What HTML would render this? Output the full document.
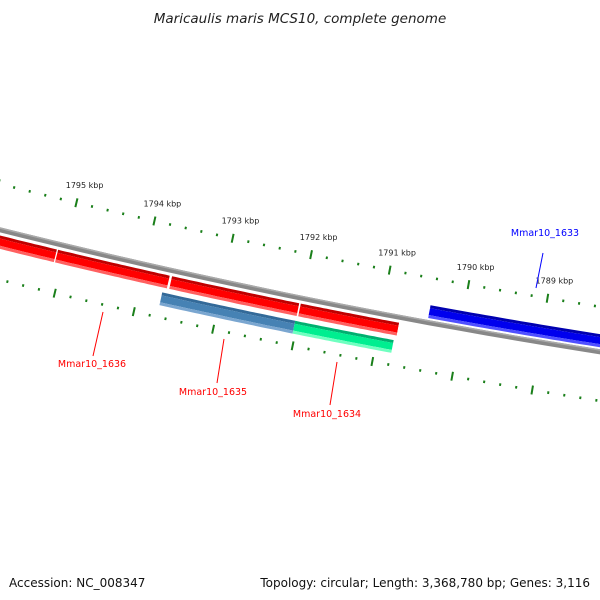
<!DOCTYPE html>
<html><head><meta charset="utf-8"><style>
html,body{margin:0;padding:0;background:#fff;}
svg{display:block;font-family:"DejaVu Sans","Liberation Sans",sans-serif;}
</style></head><body>
<svg id="map" width="600" height="600" viewBox="0 0 600 600" xmlns="http://www.w3.org/2000/svg">
<text x="300" y="23" text-anchor="middle" font-size="13.5" font-style="italic" fill="#222">Maricaulis maris MCS10, complete genome</text>
<text x="9" y="587" font-size="12" fill="#111">Accession: NC_008347</text>
<text x="590" y="587" text-anchor="end" font-size="12" fill="#111">Topology: circular; Length: 3,368,780 bp; Genes: 3,116</text>
<g id="layer"></g>
</svg>
<script>
// data (kbp)
const majorTicks = [1789, 1790, 1791, 1792, 1793, 1794, 1795, 1796];
const tickLabels = ["1789 kbp","1790 kbp","1791 kbp","1792 kbp","1793 kbp","1794 kbp","1795 kbp",""];
const cdsStarts = [1795.09, 1793.64, 1792.01, 1790.78, 1795.9];
const cdsEnds   = [1793.66, 1792.02, 1790.76, 1790.76, 1795.10];
const geneNames = ["Mmar10_1636","Mmar10_1635","Mmar10_1634","Mmar10_1633"];
const geneStarts = [1795.09, 1793.71, 1792.03, 1790.42];
const geneEnds   = [1793.64, 1792.03, 1790.79, 1787.8];
const geneLane   = [0, 1, 1, 2];

const svg = document.getElementById('layer');
const NS = 'http://www.w3.org/2000/svg';
const CX = 1660, CY = -6400;
const PHI0 = (101.48 - 0.09) * Math.PI/180 + 0.0012, K = 0.0118;
function phi(k){ return PHI0 + (k - 1792)*K; }
function pt(k, r){ const a = phi(k); return [CX + r*Math.cos(a), CY + r*Math.sin(a)]; }
function band(k1,k2,r1,r2){
  const n=30, p=[];
  for(let i=0;i<=n;i++){ const k=k1+(k2-k1)*i/n; p.push(pt(k,r1)); }
  for(let i=n;i>=0;i--){ const k=k1+(k2-k1)*i/n; p.push(pt(k,r2)); }
  return p.map(q=>q[0].toFixed(1)+','+q[1].toFixed(1)).join(' ');
}
function el(tag, attrs){ const e=document.createElementNS(NS,tag); for(const a in attrs) e.setAttribute(a,attrs[a]); svg.appendChild(e); return e; }

// backbone
let bb = el('polygon',{points:band(1786,1797,6832,6837),fill:'#888'});


let bb2 = el('polygon',{points:band(1786,1797,6832,6833.5),fill:'#aaa'});



// ticks
for(let k=1787;k<=1797.001;k+=0.2){
  const kk=Math.round(k*10)/10, major=Math.abs(kk-Math.round(kk))<0.01;
  for(const rc of [6790, 6883]){
    const h = major?4.5:1.3;
    const a=pt(kk,rc-h), b=pt(kk,rc+h);
    const t=el('line',{x1:a[0],y1:a[1],x2:b[0],y2:b[1],stroke:'#1a7f1a','stroke-width':2});
    
    
  }
}
majorTicks.forEach((k,i)=>{
  if(!tickLabels[i]) return;
  const p=pt(k,6772);
  const t=el('text',{x:p[0]+4,y:p[1]+3,'font-size':8,'text-anchor':'middle',fill:'#222'});
  t.textContent=tickLabels[i];
  
  
});

function drawFeature(k1,k2,r1,r2,dark,main,light,name){
  const g=el('g',{});
  
  
  const parts=[[r1,r1+3,dark],[r1+3,r2-3,main],[r2-3,r2,light]];
  for(const [a,b,c] of parts){
    const p=document.createElementNS(NS,'polygon');
    p.setAttribute('points',band(k1,k2,a,b)); p.setAttribute('fill',c);
    g.appendChild(p);
  }
}
for(let i=0;i<4;i++){
  drawFeature(cdsStarts[i]-0.005,cdsEnds[i]+0.005,6840,6853,'#c00000','#ff0000','#ff6060','cds-feature');
}
drawFeature(1796.5,1795.1,6840,6853,'#c00000','#ff0000','#ff6060','cds-feature');

geneNames.forEach((n,i)=>{
  let r1,r2,c;
  if(i===3){ r1=6817; r2=6830; c=['#0000b0','#0000ee','#5050ff']; }
  else if(i===1){ r1=6858; r2=6871; c=['#336a99','#4682b4','#7aa6d0']; }
  else if(i===2){ r1=6858; r2=6871; c=['#00b070','#00ee90','#70ffc0']; }
  else return;
  drawFeature(geneStarts[i],geneEnds[i],r1,r2,c[0],c[1],c[2],'gene-'+n.toLowerCase().replace('_','-'));
});

// labels
const labelPos = [[92,367,103,312,93,356,'red'],[213,395,224,339,217,383,'red'],[327,417,337,362,330,405,'red'],[545,236,543,253,536,288,'blue']];
geneNames.forEach((n,i)=>{
  const L=labelPos[i];
  const ln=el('line',{x1:L[2],y1:L[3],x2:L[4],y2:L[5],stroke:L[6],'stroke-width':1});
  
  
  const t=el('text',{x:L[0],y:L[1],'font-size':9.5,'text-anchor':'middle',fill:L[6]});
  t.textContent=n;
  
  
});
</script>
</body></html>
